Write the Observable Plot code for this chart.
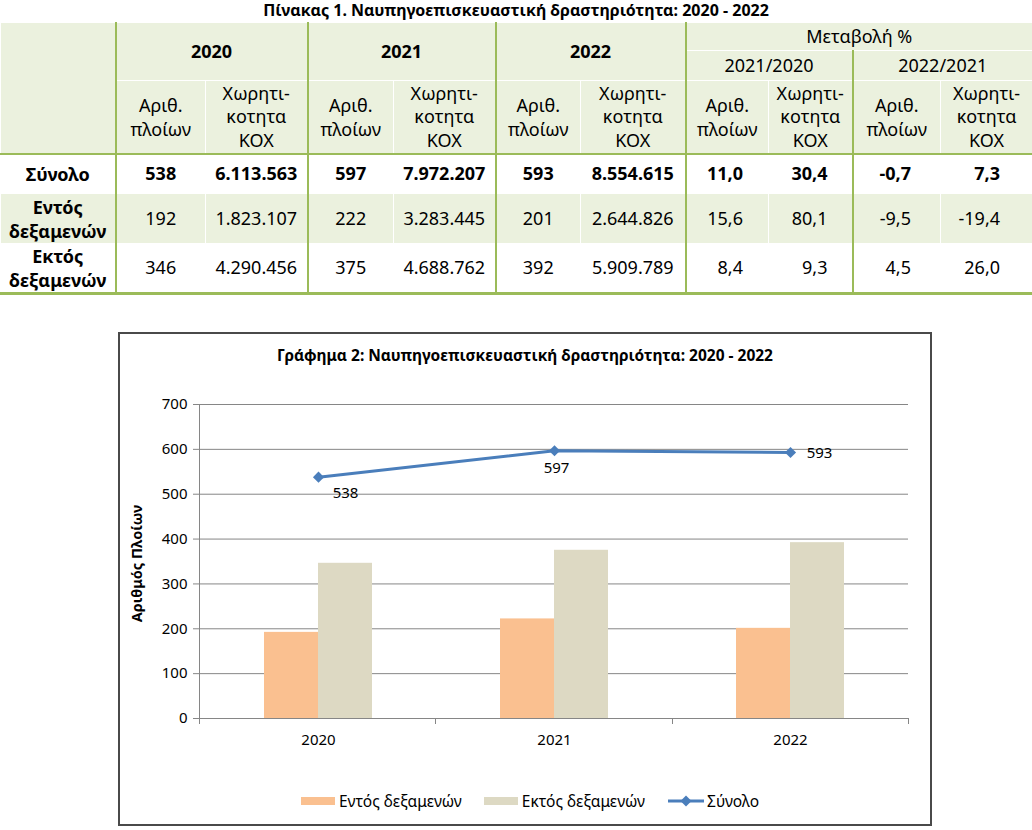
<!DOCTYPE html>
<html>
<head>
<meta charset="utf-8">
<script src="https://cdn.jsdelivr.net/npm/d3@7"></script>
<script src="https://cdn.jsdelivr.net/npm/@observablehq/plot@0.6"></script>
<style>
  html, body { margin: 0; padding: 0; background: #fff; }
  body { width: 1032px; height: 830px; position: relative; font-family: "Noto Sans", sans-serif; color: #000; overflow: hidden; }
  #ttitle { position: absolute; left: 0; top: 0; width: 1032px; height: 22px; line-height: 20px; text-align: center; font-weight: bold; font-size: 16px; }
  table { position: absolute; left: 0; top: 22px; width: 1032px; border-collapse: collapse; table-layout: fixed; font-size: 18px; }
  td, th { border: 1px solid #fff; padding: 0; text-align: center; vertical-align: middle; font-weight: normal; line-height: 23.5px; }
  thead td { background: #ebf1de; }
  .g { border-left: 2px solid #9bbb59; }
  .hb { border-bottom: 2px solid #9bbb59; }
  .bb { border-bottom: 3px solid #9bbb59; }
  .b { font-weight: bold; }
  .stripe td { background: #ebf1de; }
  #box { position: absolute; left: 118px; top: 332px; width: 810px; height: 490px; border: 2px solid #4a4a4a; }
  #ctitle { position: absolute; left: 120px; top: 344px; width: 810px; text-align: center; font-weight: bold; font-size: 15.5px; line-height: 22px; }
  #chart { position: absolute; left: 119px; top: 380px; }
  #legend { position: absolute; left: 120px; top: 790px; width: 810px; display: flex; justify-content: center; align-items: center; font-size: 15.5px; padding-left: 10px; box-sizing: border-box; }
  .item { display: flex; align-items: center; margin: 0 11px; }
  .sw { width: 34px; height: 8px; margin-right: 4px; }
</style>
</head>
<body>
<div id="ttitle">Πίνακας 1. Ναυπηγοεπισκευαστική δραστηριότητα: 2020 - 2022</div>
<div id="tablewrap"></div>
<div id="box"></div>
<div id="ctitle">Γράφημα 2: Ναυπηγοεπισκευαστική δραστηριότητα: 2020 - 2022</div>
<div id="chart"></div>
<div id="legend"></div>
<script>
// ---------- data ----------
const years = ["2020", "2021", "2022"];
const entos = [192, 222, 201];
const ektos = [346, 375, 392];
const synolo = [538, 597, 593];
const yTicks = [0, 100, 200, 300, 400, 500, 600, 700];
const seriesNames = ["Εντός δεξαμενών", "Εκτός δεξαμενών", "Σύνολο"];

// table data
const rowLabels = ["Σύνολο", "Εντός δεξαμενών", "Εκτός δεξαμενών"];
const ships2020 = [538, 192, 346];
const gt2020 = [6113563, 1823107, 4290456];
const ships2021 = [597, 222, 375];
const gt2021 = [7972207, 3283445, 4688762];
const ships2022 = [593, 201, 392];
const gt2022 = [8554615, 2644826, 5909789];
const chShips2120 = [11.0, 15.6, 8.4];
const chGt2120 = [30.4, 80.1, 9.3];
const chShips2221 = [-0.7, -9.5, 4.5];
const chGt2221 = [7.3, -19.4, 26.0];
const colWidths = [115, 90, 102, 86, 102, 85, 105, 83, 84, 88, 92];

// ---------- table ----------
const loc = d3.formatLocale({decimal: ",", thousands: ".", grouping: [3], currency: ["", "€"], minus: "-"});
const fInt = loc.format(",d");
const fPct = loc.format(",.1f");
const shipsHdr = "Αριθ.<br>πλοίων";
const gtHdr = "Χωρητι-<br>κοτητα<br>ΚΟΧ";
let html = "<table><colgroup>" + colWidths.map(w => `<col style="width:${w}px">`).join("") + "</colgroup><thead>";
html += `<tr style="height:28px"><td rowspan="3" class="hb"></td>` +
  years.map(y => `<td colspan="2" rowspan="2" class="g b">${y}</td>`).join("") +
  `<td colspan="4" class="g">Μεταβολή %</td></tr>`;
html += `<tr style="height:30px"><td colspan="2" class="g">2021/2020</td><td colspan="2" class="g">2022/2021</td></tr>`;
html += `<tr style="height:73px">` + [0,1,2,3,4].map(i =>
  `<td class="g hb" style="padding-top:2px">${shipsHdr}</td><td class="hb">${gtHdr}</td>`).join("") + `</tr></thead><tbody>`;
const pads = [25, 24, 29, 32];
rowLabels.forEach((lab, i) => {
  const cls = i === 1 ? ' class="stripe"' : "";
  const h = i === 0 ? 40 : 50;
  const bold = i === 0 ? " b" : "";
  const last = i === 2 ? " bb" : "";
  html += `<tr${cls} style="height:${h}px">`;
  html += `<td class="b${last}" style="line-height:24px">${lab}</td>`;
  [[ships2020, gt2020], [ships2021, gt2021], [ships2022, gt2022]].forEach(([s, g]) => {
    html += `<td class="g${bold}${last}">${fInt(s[i])}</td><td class="${bold}${last}">${fInt(g[i])}</td>`;
  });
  [chShips2120, chGt2120, chShips2221, chGt2221].forEach((arr, k) => {
    const gcls = (k % 2 === 0) ? "g" : "";
    html += `<td class="${gcls}${bold}${last}" style="text-align:right;padding-right:${pads[k]}px">${fPct(arr[i])}</td>`;
  });
  html += `</tr>`;
});
html += "</tbody></table>";
document.getElementById("tablewrap").innerHTML = html;

// ---------- chart ----------
const rows = years.map((y, i) => ({year: y, entos: entos[i], ektos: ektos[i], synolo: synolo[i]}));
const gridColor = "#868686";
const orange = "#fac090";
const beige = "#ddd9c3";
const blue = "#4a7ebb";

const chart = Plot.plot({
  width: 812,
  height: 380,
  marginLeft: 80,
  marginRight: 23,
  marginTop: 24,
  marginBottom: 42,
  style: {fontFamily: "'Noto Sans', sans-serif", fontSize: "15px", color: "#000", background: "transparent", overflow: "visible"},
  x: {type: "band", domain: years, padding: 0, axis: null},
  y: {domain: [0, 700], axis: null},
  marks: [
    Plot.ruleY(yTicks, {stroke: gridColor, strokeWidth: 1}),
    Plot.axisY({ticks: yTicks, tickSize: 6, tickPadding: 6, stroke: gridColor, label: null, fontSize: 15, fill: "#000"}),
    Plot.axisX({tickSize: 0, tickPadding: 16, label: null, fontSize: 15, fill: "#000"}),
    Plot.text(["Αριθμός Πλοίων"], {frameAnchor: "left", textAnchor: "middle", dx: -62, dy: 2, rotate: -90, fontWeight: "bold", fontSize: 14.5, fill: "#000"}),
    Plot.barY(rows, {x: "year", y: "entos", fill: orange, insetLeft: 64, insetRight: 118}),
    Plot.barY(rows, {x: "year", y: "ektos", fill: beige, insetLeft: 118, insetRight: 64}),
    Plot.line(rows, {x: "year", y: "synolo", stroke: blue, strokeWidth: 3}),
    Plot.dot(rows, {x: "year", y: "synolo", symbol: "diamond2", fill: blue, stroke: "none", r: 5}),
    Plot.text(rows.filter(d => d.year === "2020"), {x: "year", y: "synolo", text: d => String(d.synolo), dx: 27, dy: 16, fontSize: 15, fill: "#000"}),
    Plot.text(rows.filter(d => d.year === "2021"), {x: "year", y: "synolo", text: d => String(d.synolo), dx: 2, dy: 17, fontSize: 15, fill: "#000"}),
    Plot.text(rows.filter(d => d.year === "2022"), {x: "year", y: "synolo", text: d => String(d.synolo), dx: 29, dy: 1, fontSize: 15, fill: "#000"})
  ]
});
document.getElementById("chart").appendChild(chart);

// axis lines and category boundary ticks from the library's scales
const xs = chart.scale("x");
const ys = chart.scale("y");
const svg = d3.select(chart);
const x0 = xs.range[0];
const step = (xs.range[1] - xs.range[0]) / years.length;
const yBottom = ys.apply(0);
const yTop = ys.apply(700);
const g = svg.append("g").attr("stroke", gridColor).attr("stroke-width", 1);
g.append("line").attr("x1", x0 + 0.5).attr("x2", x0 + 0.5).attr("y1", yTop).attr("y2", yBottom);
d3.range(years.length + 1).forEach(i => {
  const x = Math.round(x0 + i * step) + 0.5;
  g.append("line").attr("x1", x).attr("x2", x).attr("y1", yBottom).attr("y2", yBottom + 6);
});

// legend
const legend = document.getElementById("legend");
legend.innerHTML =
  `<div class="item"><div class="sw" style="background:${orange}"></div><span>${seriesNames[0]}</span></div>` +
  `<div class="item"><div class="sw" style="background:${beige}"></div><span>${seriesNames[1]}</span></div>` +
  `<div class="item"><svg width="38" height="14" style="margin-right:2px"><line x1="1" x2="37" y1="7" y2="7" stroke="${blue}" stroke-width="3"/><path d="M19,1.5 L24.5,7 L19,12.5 L13.5,7Z" fill="${blue}"/></svg><span>${seriesNames[2]}</span></div>`;
</script>
</body>
</html>
